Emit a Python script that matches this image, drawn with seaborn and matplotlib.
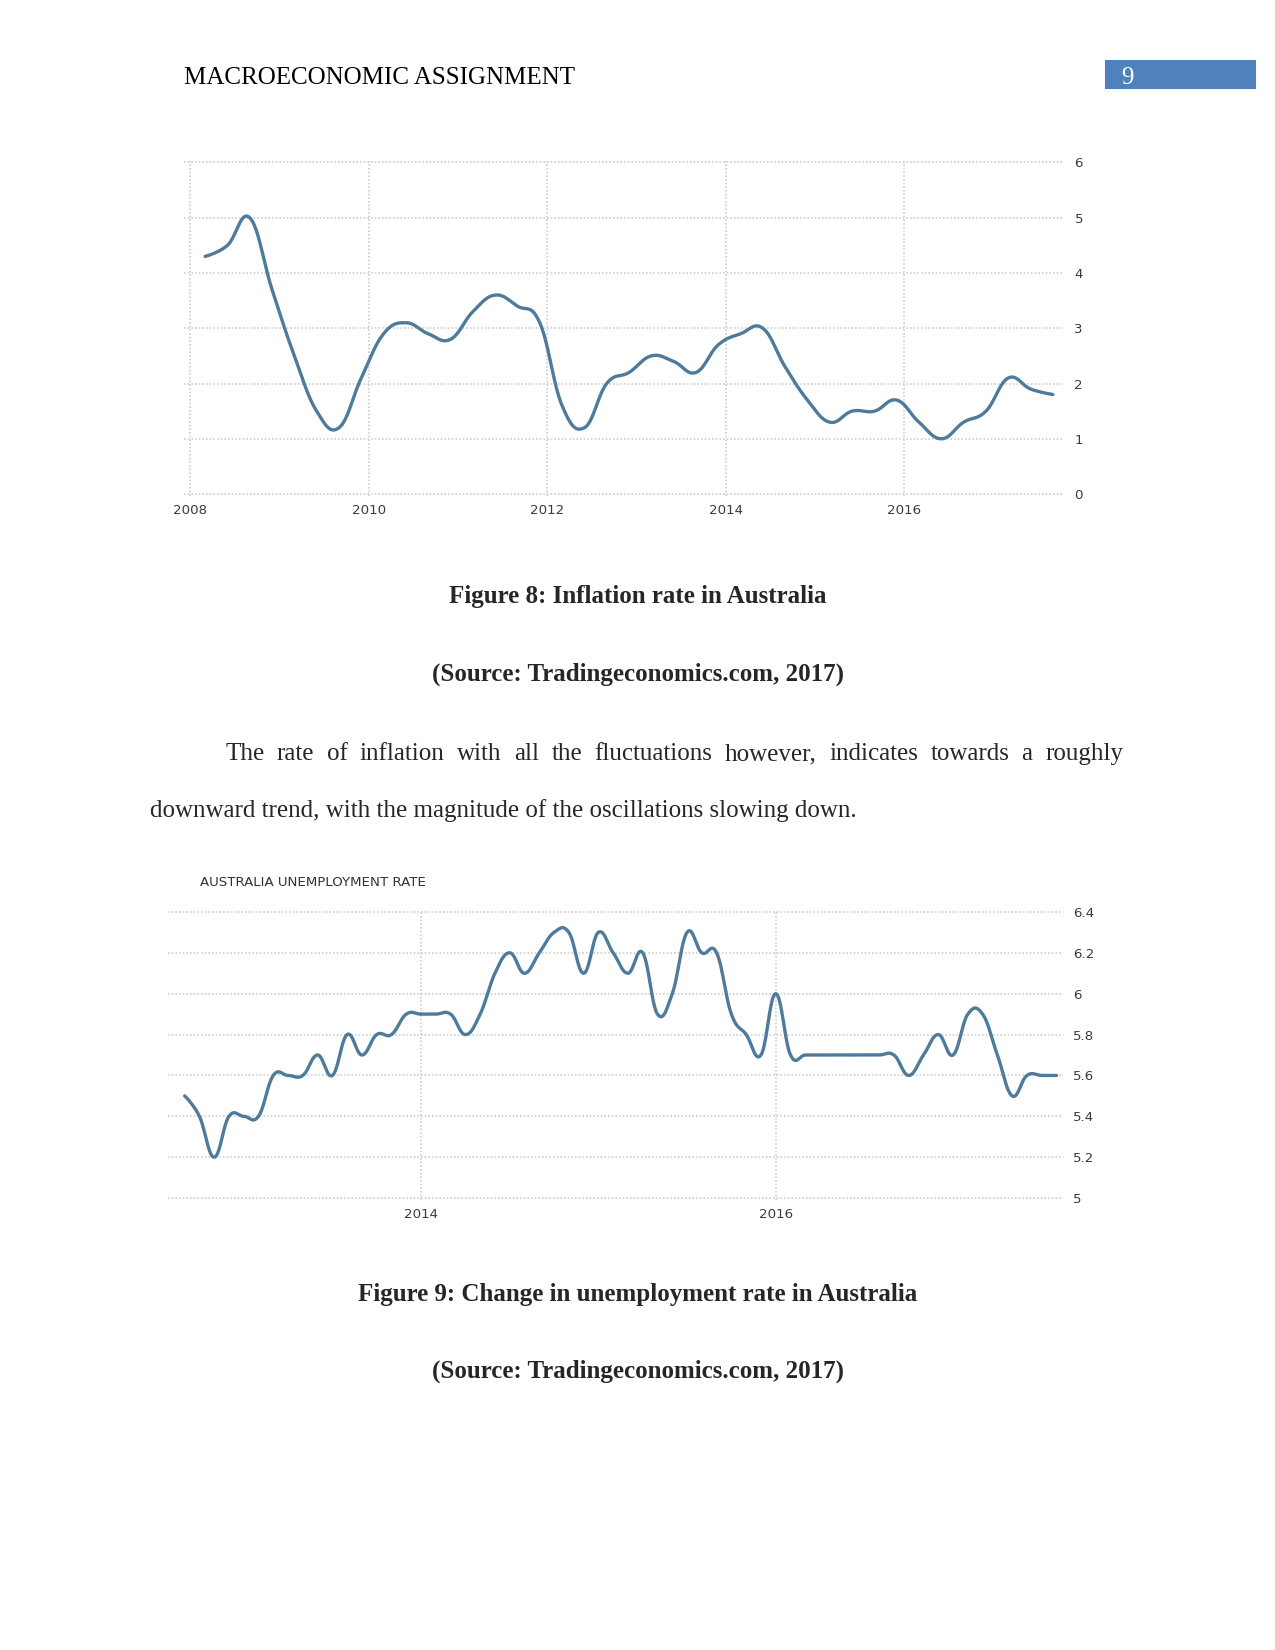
import numpy as np
import pandas as pd
import seaborn as sns
import matplotlib
matplotlib.use('Agg')
import matplotlib.pyplot as plt
from matplotlib.patches import Rectangle

# inflation rate in Australia, quarterly 2008Q1 - 2017Q3 (%)
cpi_quarters = pd.period_range('2008Q1', '2017Q3', freq='Q')
cpi_rate = [4.3, 4.5, 5.0, 3.7, 2.5, 1.5, 1.2, 2.1, 2.9, 3.1, 2.9, 2.8,
            3.3, 3.6, 3.4, 3.1, 1.6, 1.2, 2.0, 2.2, 2.5, 2.4, 2.2, 2.7,
            2.9, 3.0, 2.3, 1.7, 1.3, 1.5, 1.5, 1.7, 1.3, 1.0, 1.3, 1.5,
            2.1, 1.9, 1.8]
cpi_xticks = [2008, 2010, 2012, 2014, 2016]
cpi_yticks = [0, 1, 2, 3, 4, 5, 6]

# unemployment rate, monthly Sep 2012 - Aug 2017 (%)
unemp_months = pd.period_range('2012-09', '2017-08', freq='M')
unemp_rate = [5.5, 5.4, 5.2, 5.4, 5.4, 5.4, 5.6, 5.6, 5.6, 5.7, 5.6, 5.8,
              5.7, 5.8, 5.8, 5.9, 5.9, 5.9, 5.9, 5.8, 5.9, 6.1, 6.2, 6.1,
              6.2, 6.3, 6.3, 6.1, 6.3, 6.2, 6.1, 6.2, 5.9, 6.0, 6.3, 6.2,
              6.2, 5.9, 5.8, 5.7, 6.0, 5.7, 5.7, 5.7, 5.7, 5.7, 5.7, 5.7,
              5.7, 5.6, 5.7, 5.8, 5.7, 5.9, 5.9, 5.7, 5.5, 5.6, 5.6, 5.6]
unemp_xticks = [2014, 2016]
unemp_yticks = [5, 5.2, 5.4, 5.6, 5.8, 6, 6.2, 6.4]

line_col = '#4e7b9b'
grid_col = '#cdcdcd'


def dec_year(periods):
    return np.array([p.end_time.year + (p.end_time.month - 1) / 12 for p in periods])


def spline(xs, ys, smooth=1.5, n=24):
    # highcharts-like spline through the points
    xs = np.asarray(xs, float)
    ys = np.asarray(ys, float)
    lx, ly, rx, ry = xs.copy(), ys.copy(), xs.copy(), ys.copy()
    d = smooth + 1
    for i in range(1, len(xs) - 1):
        lcx = (smooth * xs[i] + xs[i - 1]) / d
        lcy = (smooth * ys[i] + ys[i - 1]) / d
        rcx = (smooth * xs[i] + xs[i + 1]) / d
        rcy = (smooth * ys[i] + ys[i + 1]) / d
        corr = (rcy - lcy) * (rcx - xs[i]) / (rcx - lcx) + ys[i] - rcy
        lx[i], ly[i], rx[i], ry[i] = lcx, lcy + corr, rcx, rcy + corr
    t = np.linspace(0, 1, n)
    cx, cy = [], []
    for i in range(1, len(xs)):
        a, b, c = (1 - t) ** 3, 3 * (1 - t) ** 2 * t, 3 * (1 - t) * t ** 2
        e = t ** 3
        cx.append(a * xs[i - 1] + b * rx[i - 1] + c * lx[i] + e * xs[i])
        cy.append(a * ys[i - 1] + b * ry[i - 1] + c * ly[i] + e * ys[i])
    return np.concatenate(cx), np.concatenate(cy)


def fx(px):
    return px / 1275


def fy(py):
    return 1 - py / 1650


def style_axes(ax, xticks, yticks, xpad, ypad):
    ax.set_xticks(xticks)
    ax.set_xticklabels([str(v) for v in xticks])
    ax.set_yticks(yticks)
    ax.set_yticklabels(['%g' % v for v in yticks])
    ax.yaxis.tick_right()
    ax.grid(True, color=grid_col, linestyle=(0, (1, 1.2)), linewidth=0.8)
    ax.tick_params(axis='both', length=0, labelsize=6.4, labelcolor='#3a3a3a')
    ax.tick_params(axis='x', pad=xpad)
    ax.tick_params(axis='y', pad=ypad)
    for s in ax.spines.values():
        s.set_visible(False)
    ax.set_xlabel('')
    ax.set_ylabel('')


sns.set_style('white')
plt.rcParams['font.family'] = ['DejaVu Sans']

fig = plt.figure(figsize=(8.5, 11), dpi=150)

# ---- chart 1: inflation
ax1 = fig.add_axes([fx(184), fy(495.7), fx(1063) - fx(184), (495.7 - 160.8) / 1650])
cx, cy = spline(dec_year(cpi_quarters), cpi_rate)
sns.lineplot(x=cx, y=cy, sort=False, estimator=None, color=line_col, lw=1.6, ax=ax1)
ax1.set_xlim(2007.93, 2017.78)
ax1.set_ylim(-0.03, 6.03)
style_axes(ax1, cpi_xticks, cpi_yticks, 3.8, 5.5)

# ---- chart 2: unemployment
ax2 = fig.add_axes([fx(168), fy(1199.5), fx(1063) - fx(168), (1199.5 - 910.5) / 1650])
cx, cy = spline(dec_year(unemp_months), unemp_rate)
sns.lineplot(x=cx, y=cy, sort=False, estimator=None, color=line_col, lw=1.6, ax=ax2)
ax2.set_xlim(2012.573, 2017.62)
ax2.set_ylim(4.993, 6.407)
style_axes(ax2, unemp_xticks, unemp_yticks, 4.0, 4.8)
fig.text(fx(200), fy(883), 'AUSTRALIA UNEMPLOYMENT RATE', fontsize=6.4,
         color='#333333', va='center', ha='left')

# ---- page text
serif = 'Liberation Serif'
fig.text(fx(184), fy(83.5), 'MACROECONOMIC ASSIGNMENT', family=serif, fontsize=12,
         va='baseline', ha='left', color='black')
fig.patches.append(Rectangle((fx(1106), fy(88)), fx(1255) - fx(1106), 27 / 1650,
                             transform=fig.transFigure, color='#4f81bd', zorder=0))
fig.text(fx(1127), fy(83.5), '9', family=serif, fontsize=12, color='white',
         va='baseline', ha='center')

caps = [(603, 'Figure 8: Inflation rate in Australia'),
        (681, '(Source: Tradingeconomics.com, 2017)'),
        (1300.5, 'Figure 9: Change in unemployment rate in Australia'),
        (1378, '(Source: Tradingeconomics.com, 2017)')]
for y, s in caps:
    fig.text(fx(637.5), fy(y), s, family=serif, fontsize=12, fontweight='bold',
             va='baseline', ha='center')

# justified first line of the paragraph
line1 = 'The rate of inflation with all the fluctuations however, indicates towards a roughly'
renderer = fig.canvas.get_renderer()
objs = [fig.text(0, fy(760), w, family=serif, fontsize=12, va='baseline', ha='left')
        for w in line1.split()]
widths = [o.get_window_extent(renderer).width for o in objs]
gap = (1123 - 225 - sum(widths)) / (len(objs) - 1)
x = 225
for o, w in zip(objs, widths):
    o.set_x(fx(x))
    x += w + gap
fig.text(fx(150), fy(817), 'downward trend, with the magnitude of the oscillations slowing down.',
         family=serif, fontsize=12, va='baseline', ha='left')

fig.savefig('out.png', dpi=150, facecolor='white')
